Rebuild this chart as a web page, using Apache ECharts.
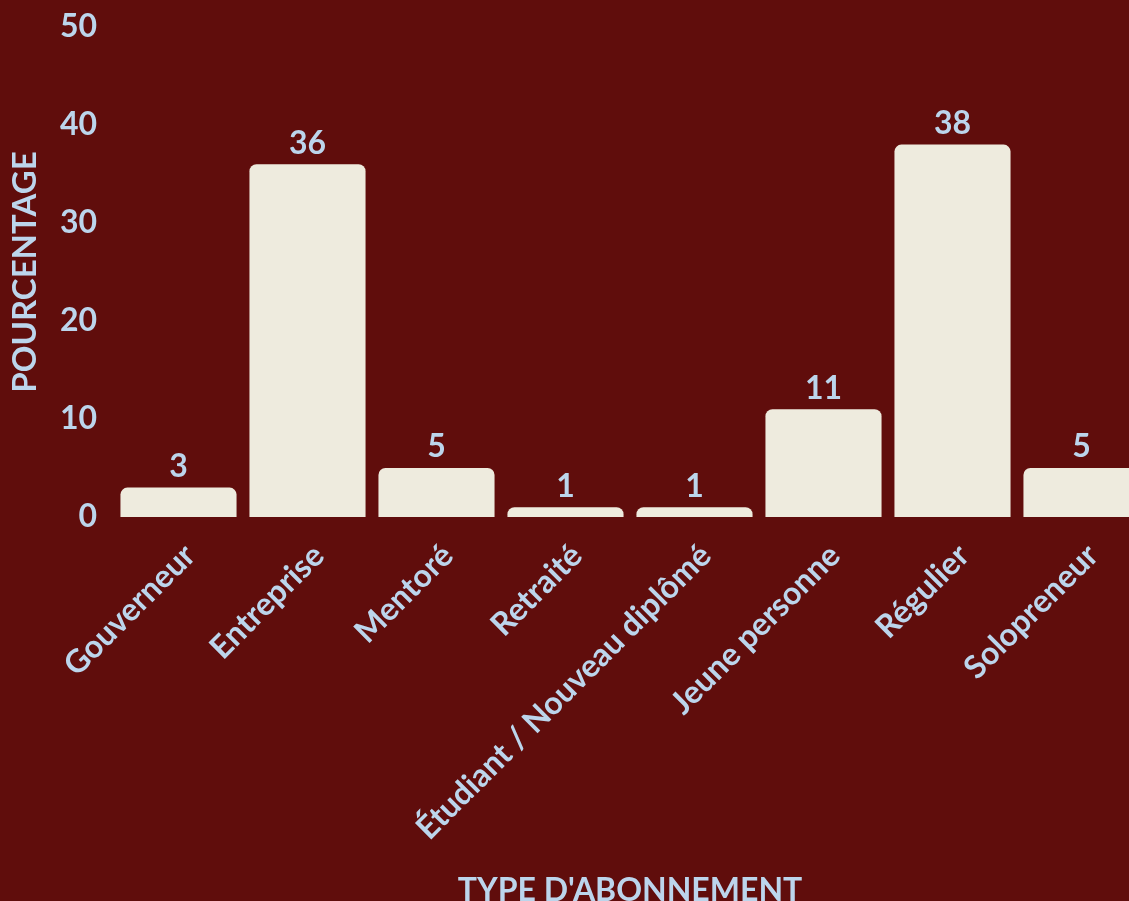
<!DOCTYPE html>
<html>
<head>
<meta charset="utf-8">
<script src="https://cdn.jsdelivr.net/npm/echarts@6/dist/echarts.min.js"></script>
<style>
html,body{margin:0;padding:0;background:#600d0c;overflow:hidden;}
#chart{width:1129px;height:901px;}
</style>
</head>
<body>
<div id="chart"></div>
<script>
const categories = ["Gouverneur","Entreprise","Mentoré","Retraité","Étudiant / Nouveau diplômé","Jeune personne","Régulier","Solopreneur"];
const values = [3,36,5,1,1,11,38,5];
const yTicks = [0,10,20,30,40,50];

const textColor = "#bcd5ec";
const font = "Lato";
const chart = echarts.init(document.getElementById('chart'));
chart.setOption({
  backgroundColor: "#600d0c",
  animation: false,
  grid: {left: 114, right: -17, top: 27, bottom: 384, containLabel: false, outerBoundsMode: 'none'},
  xAxis: {
    type: 'category',
    data: categories,
    axisLine: {show: false},
    axisTick: {show: false},
    axisLabel: {rotate: 45, color: textColor, fontFamily: font, fontWeight: 'bold', fontSize: 32, margin: 22, interval: 0, verticalAlign: 'top'},
    name: "TYPE D'ABONNEMENT",
    nameLocation: 'middle',
    nameGap: 358,
    nameTextStyle: {color: textColor, fontFamily: font, fontWeight: 'bold', fontSize: 32}
  },
  yAxis: {
    type: 'value',
    min: yTicks[0],
    max: yTicks[yTicks.length-1],
    interval: 10,
    splitLine: {show: false},
    axisLine: {show: false},
    axisTick: {show: false},
    axisLabel: {color: textColor, fontFamily: font, fontWeight: 'bold', fontSize: 32, margin: 17},
    name: "POURCENTAGE",
    nameLocation: 'middle',
    nameGap: 72,
    nameTextStyle: {color: textColor, fontFamily: font, fontWeight: 'bold', fontSize: 33}
  },
  series: [{
    type: 'bar',
    data: values,
    barCategoryGap: '10%',
    itemStyle: {color: "#eeebde", borderRadius: [7,7,0,0]},
    label: {show: true, position: 'top', distance: 5, color: textColor, fontFamily: font, fontWeight: 'bold', fontSize: 32}
  }]
});
</script>
</body>
</html>
